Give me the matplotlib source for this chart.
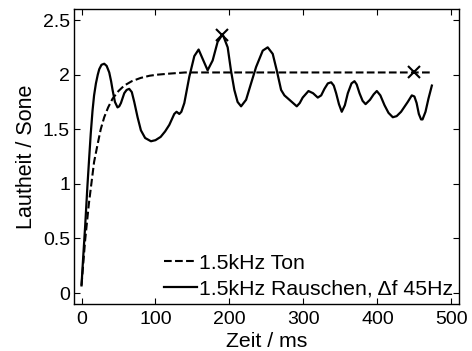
import numpy as np
import matplotlib
matplotlib.use("Agg")
import matplotlib.pyplot as plt

# 1.5 kHz tone (dashed)
ton_t = [0, 5, 10, 13.5, 17, 21.7, 26, 30.7, 36, 42, 50, 57.8, 68, 80, 92, 103, 120, 140, 170, 200, 300, 400, 473.6]
ton_l = [0.07, 0.49, 0.82, 1.01, 1.20, 1.36, 1.50, 1.61, 1.70, 1.78, 1.85, 1.90, 1.94, 1.97, 1.99, 2.00, 2.01, 2.02, 2.02, 2.02, 2.02, 2.02, 2.02]

# 1.5 kHz noise, delta f 45 Hz (solid)
rausch_t = [0, 2.3, 5, 8, 10.4, 12.5, 14.9, 17, 19.5, 22, 24, 27, 30.7, 34, 37.5, 40, 42, 45.2, 48.7, 51, 53.3,
            57.8, 61, 64.5, 68, 71.3, 75.8, 80.3, 86, 93.9, 100, 107, 113, 118.7, 125.4, 128.5, 132.2, 135, 139,
            145.7, 152.5, 158.3, 164.7, 170.5, 177.3, 184, 190.8, 197.6, 202, 206.6, 211, 215.7, 222.5, 229.2,
            236, 245, 251.7, 258.5, 263.9, 269.8, 274.3, 281, 286, 291, 295, 299, 306.8, 313, 319.4, 324,
            328.4, 333, 337.5, 341, 344.2, 348, 351.8, 356, 360, 365, 369, 372, 375.8, 380, 384, 390,
            395, 399.2, 404, 409.6, 415, 420.8, 426, 432, 437, 441, 446.5, 450, 453, 456, 459, 461, 465,
            469, 473.6]
rausch_l = [0.07, 0.33, 0.62, 0.98, 1.24, 1.46, 1.67, 1.81, 1.92, 2.00, 2.05, 2.09, 2.10, 2.08, 2.02, 1.94, 1.86,
            1.75, 1.70, 1.71, 1.74, 1.83, 1.86, 1.87, 1.84, 1.75, 1.61, 1.49, 1.42, 1.39, 1.40, 1.43, 1.48,
            1.54, 1.64, 1.66, 1.64, 1.66, 1.74, 1.98, 2.17, 2.23, 2.13, 2.04, 2.13, 2.30, 2.37, 2.25, 2.04,
            1.86, 1.75, 1.71, 1.77, 1.92, 2.07, 2.22, 2.25, 2.19, 2.04, 1.86, 1.81, 1.77, 1.74, 1.71, 1.74,
            1.79, 1.85, 1.83, 1.79, 1.81, 1.87, 1.92, 1.93, 1.90, 1.83, 1.73, 1.66, 1.72, 1.83, 1.92, 1.94,
            1.91, 1.83, 1.76, 1.73, 1.77, 1.82, 1.85, 1.81, 1.72, 1.65, 1.61, 1.62, 1.66, 1.71, 1.75, 1.81,
            1.80, 1.74, 1.64, 1.59, 1.59, 1.66, 1.78, 1.90]

# marked maxima
mark_t = [190, 450]
mark_l = [2.36, 2.02]

plt.rcParams["font.family"] = ["Liberation Sans", "DejaVu Sans"]
plt.rcParams["font.size"] = 14

fig = plt.figure(figsize=(4.72, 3.51), dpi=100)
ax = fig.add_axes([0.157, 0.134, 0.815, 0.840])

ax.plot(ton_t, ton_l, "k--", lw=1.5, label="1.5kHz Ton")
ax.plot(rausch_t, rausch_l, "k-", lw=1.6, label="1.5kHz Rauschen, \u0394f 45Hz")
ax.plot(mark_t, mark_l, "kx", ms=8, mew=1.5)

ax.set_xlim(-10, 510)
ax.set_ylim(-0.1, 2.6)
ax.set_xticks([0, 100, 200, 300, 400, 500])
ax.set_yticks([0, 0.5, 1, 1.5, 2, 2.5])
ax.set_yticklabels(["0", "0.5", "1", "1.5", "2", "2.5"])
ax.tick_params(direction="in", top=True, right=True, length=4, width=0.8, pad=3)
ax.tick_params(axis="x", pad=5)
for s in ax.spines.values():
    s.set_linewidth(1.0)

ax.set_xlabel("Zeit / ms", fontsize=15.3, labelpad=3)
ax.set_ylabel("Lautheit / Sone", fontsize=15.5, labelpad=4)

ax.legend(loc="lower right", frameon=False, fontsize=15.3, handlelength=1.55, handletextpad=0.1,
          borderaxespad=0.15, labelspacing=0.33, borderpad=0.1)

fig.savefig("out.png", dpi=100)
